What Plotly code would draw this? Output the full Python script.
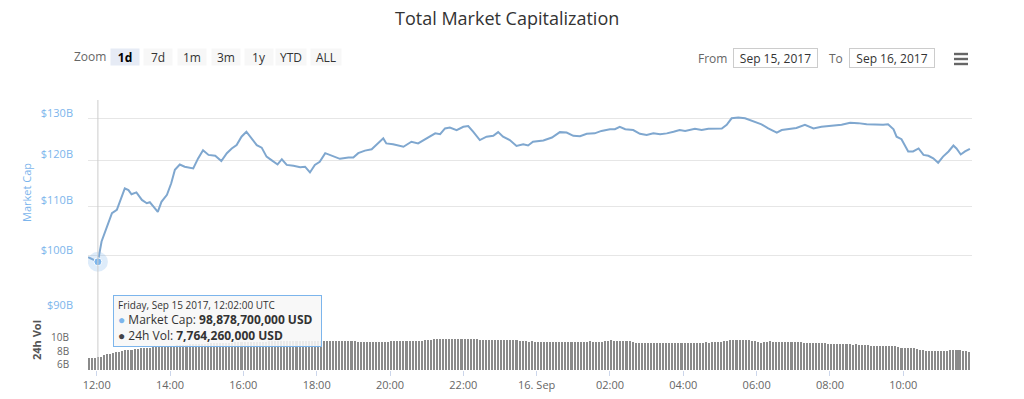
import math
import pandas as pd
import plotly.graph_objects as go

# ---------------- data ----------------
cap_times = [
    "2017-09-15 11:46", "2017-09-15 12:02", "2017-09-15 12:08", "2017-09-15 12:16", "2017-09-15 12:25",
    "2017-09-15 12:33", "2017-09-15 12:38", "2017-09-15 12:46", "2017-09-15 12:52", "2017-09-15 12:57",
    "2017-09-15 13:05", "2017-09-15 13:14", "2017-09-15 13:22", "2017-09-15 13:27", "2017-09-15 13:33",
    "2017-09-15 13:40", "2017-09-15 13:46", "2017-09-15 13:55", "2017-09-15 14:02", "2017-09-15 14:08",
    "2017-09-15 14:16", "2017-09-15 14:24", "2017-09-15 14:38", "2017-09-15 14:46", "2017-09-15 14:54",
    "2017-09-15 15:03", "2017-09-15 15:14", "2017-09-15 15:24", "2017-09-15 15:33", "2017-09-15 15:41",
    "2017-09-15 15:49", "2017-09-15 15:57", "2017-09-15 16:05", "2017-09-15 16:14", "2017-09-15 16:22",
    "2017-09-15 16:30", "2017-09-15 16:38", "2017-09-15 16:46", "2017-09-15 16:56", "2017-09-15 17:03",
    "2017-09-15 17:11", "2017-09-15 17:22", "2017-09-15 17:33", "2017-09-15 17:41", "2017-09-15 17:49",
    "2017-09-15 17:57", "2017-09-15 18:05", "2017-09-15 18:14", "2017-09-15 18:25", "2017-09-15 18:38",
    "2017-09-15 18:52", "2017-09-15 19:00", "2017-09-15 19:08", "2017-09-15 19:19", "2017-09-15 19:30",
    "2017-09-15 19:41", "2017-09-15 19:49", "2017-09-15 19:54", "2017-09-15 20:05", "2017-09-15 20:22",
    "2017-09-15 20:35", "2017-09-15 20:46", "2017-09-15 21:00", "2017-09-15 21:14", "2017-09-15 21:22",
    "2017-09-15 21:30", "2017-09-15 21:38", "2017-09-15 21:49", "2017-09-15 22:00", "2017-09-15 22:08",
    "2017-09-15 22:16", "2017-09-15 22:27", "2017-09-15 22:38", "2017-09-15 22:49", "2017-09-15 22:57",
    "2017-09-15 23:05", "2017-09-15 23:16", "2017-09-15 23:27", "2017-09-15 23:38", "2017-09-15 23:46",
    "2017-09-15 23:54", "2017-09-16 00:11", "2017-09-16 00:25", "2017-09-16 00:38", "2017-09-16 00:49",
    "2017-09-16 01:00", "2017-09-16 01:11", "2017-09-16 01:22", "2017-09-16 01:35", "2017-09-16 01:46",
    "2017-09-16 02:00", "2017-09-16 02:08", "2017-09-16 02:16", "2017-09-16 02:25", "2017-09-16 02:38",
    "2017-09-16 02:49", "2017-09-16 03:00", "2017-09-16 03:11", "2017-09-16 03:22", "2017-09-16 03:33",
    "2017-09-16 03:44", "2017-09-16 03:54", "2017-09-16 04:03", "2017-09-16 04:19", "2017-09-16 04:30",
    "2017-09-16 04:41", "2017-09-16 05:03", "2017-09-16 05:11", "2017-09-16 05:19", "2017-09-16 05:30",
    "2017-09-16 05:41", "2017-09-16 05:57", "2017-09-16 06:08", "2017-09-16 06:19", "2017-09-16 06:33",
    "2017-09-16 06:41", "2017-09-16 06:55", "2017-09-16 07:05", "2017-09-16 07:19", "2017-09-16 07:33",
    "2017-09-16 07:46", "2017-09-16 08:03", "2017-09-16 08:19", "2017-09-16 08:33", "2017-09-16 08:46",
    "2017-09-16 09:00", "2017-09-16 09:14", "2017-09-16 09:27", "2017-09-16 09:35", "2017-09-16 09:44",
    "2017-09-16 09:49", "2017-09-16 09:57", "2017-09-16 10:08", "2017-09-16 10:16", "2017-09-16 10:25",
    "2017-09-16 10:33", "2017-09-16 10:41", "2017-09-16 10:49", "2017-09-16 10:57", "2017-09-16 11:05",
    "2017-09-16 11:14", "2017-09-16 11:22", "2017-09-16 11:27", "2017-09-16 11:34", "2017-09-16 11:41",
    "2017-09-16 11:49",
]
# market cap, billions USD
market_cap_b = [
    99.75, 98.88, 102.8, 105.4, 108.5,
    109.2, 110.9, 113.8, 113.4, 112.5,
    112.9, 111.3, 110.6, 110.8, 109.9,
    108.8, 110.9, 112.4, 114.9, 117.9,
    119.1, 118.6, 118.2, 120.5, 122.4,
    121.3, 121.1, 119.9, 121.7, 122.8,
    123.6, 125.6, 126.8, 125.2, 123.6,
    123.0, 120.9, 120.1, 119.1, 120.3,
    119.0, 118.8, 118.5, 118.6, 117.3,
    119.0, 119.7, 121.7, 121.1, 120.4,
    120.7, 120.7, 121.7, 122.3, 122.6,
    124.0, 125.2, 124.0, 123.8, 123.2,
    124.4, 124.0, 125.2, 126.4, 126.2,
    127.6, 127.8, 127.2, 128.0, 128.2,
    126.8, 124.8, 125.6, 125.8, 126.7,
    125.6, 124.8, 123.4, 123.8, 123.5,
    124.4, 124.7, 125.4, 126.7, 126.6,
    125.8, 125.7, 126.3, 126.4, 127.0,
    127.4, 127.4, 128.0, 127.4, 127.2,
    126.3, 126.0, 126.4, 126.2, 126.4,
    126.8, 127.2, 127.0, 127.5, 127.2,
    127.5, 127.6, 128.5, 130.1, 130.3,
    130.1, 129.1, 128.6, 127.6, 126.6,
    127.2, 127.5, 127.7, 128.5, 127.6,
    128.0, 128.2, 128.5, 129.0, 128.9,
    128.6, 128.5, 128.5, 128.6, 127.4,
    125.6, 125.0, 122.1, 122.1, 122.8,
    121.3, 121.1, 120.5, 119.5, 120.9,
    122.1, 123.5, 122.8, 121.4, 122.1,
    122.7,
]

# 24h volume, billions USD, one bar every 5 minutes from 11:47 (Sep 15)
vol_start = "2017-09-15 11:47"
volume_b = [
    7.72, 7.70, 7.74, 7.764, 7.79, 8.10, 8.25, 8.31, 8.45, 8.60, 8.72, 8.85,
    8.95, 9.05, 9.10, 9.20, 9.25, 9.30, 9.35, 9.40, 9.45, 9.50, 9.55, 9.60,
    9.65, 9.70, 9.75, 9.80, 9.85, 9.90, 9.95, 10.0, 10.05, 10.1, 10.1, 10.15,
    10.2, 10.2, 10.25, 10.3, 10.3, 10.35, 10.4, 10.4, 10.45, 10.5, 10.5, 10.5,
    10.55, 10.55, 10.6, 10.6, 10.6, 10.65, 10.65, 10.7, 10.7, 10.7, 10.7, 10.75,
    10.75, 10.75, 10.8, 10.8, 10.8, 10.8, 10.85, 10.85, 10.8, 10.85, 10.85, 10.85,
    10.85, 10.8, 10.85, 10.9, 10.85, 10.8, 10.85, 10.8, 10.85, 10.8, 10.85, 10.8,
    10.8, 10.85, 10.8, 10.75, 10.7, 10.7, 10.65, 10.7, 10.65, 10.7, 10.7, 10.65,
    10.7, 10.65, 10.7, 10.8, 10.85, 10.8, 10.85, 10.8, 10.85, 10.9, 10.85, 10.8,
    10.85, 10.9, 10.95, 11.1, 11.15, 11.2, 11.25, 11.2, 11.25, 11.3, 11.25, 11.2,
    11.25, 11.3, 11.25, 11.3, 11.25, 11.2, 11.25, 11.2, 11.1, 11.0, 11.05, 11.0,
    11.0, 11.05, 11.0, 10.95, 11.0, 11.05, 11.0, 10.95, 11.0, 10.9, 10.8, 10.75,
    10.7, 10.75, 10.7, 10.65, 10.7, 10.7, 10.65, 10.7, 10.7, 10.65, 10.7, 10.7,
    10.65, 10.7, 10.7, 10.65, 10.7, 10.7, 10.65, 10.7, 10.75, 10.7, 10.7, 10.65,
    10.7, 10.8, 10.9, 10.95, 10.9, 10.85, 10.9, 10.85, 10.9, 10.8, 10.6, 10.5,
    10.5, 10.45, 10.5, 10.5, 10.45, 10.5, 10.5, 10.45, 10.5, 10.5, 10.45, 10.5,
    10.5, 10.45, 10.5, 10.5, 10.45, 10.5, 10.5, 10.5, 10.45, 10.5, 10.55, 10.5,
    10.55, 10.6, 10.6, 10.7, 10.8, 10.9, 10.95, 11.05, 11.1, 11.05, 11.0, 10.95,
    10.95, 10.9, 10.9, 10.7, 10.5, 10.6, 10.7, 10.75, 10.7, 10.7, 10.65, 10.6,
    10.6, 10.6, 10.55, 10.6, 10.55, 10.55, 10.5, 10.4, 10.35, 10.35, 10.3, 10.35,
    10.3, 10.3, 10.25, 10.2, 10.15, 10.15, 10.1, 10.15, 10.1, 10.1, 10.05, 10.1,
    10.05, 10.0, 9.95, 9.9, 9.85, 9.85, 9.85, 9.8, 9.85, 9.8, 9.8, 9.75,
    9.7, 9.55, 9.45, 9.45, 9.4, 9.4, 9.3, 9.2, 9.05, 8.95, 8.9, 8.9,
    8.9, 8.85, 8.85, 8.9, 8.9, 8.85, 8.95, 9.0, 9.0, 8.95, 8.8, 8.75,
    8.7,
]

hover_index = 1  # point under the tooltip (12:02)
hover_cap_usd = 98878700000
hover_vol_usd = 7764260000
hover_label = "Friday, Sep 15 2017, 12:02:00 UTC"

cap_ticks = [90, 100, 110, 120, 130]
cap_tick_text = ["$90B", "$100B", "$110B", "$120B", "$130B"]
vol_ticks = [6, 8, 10]
vol_tick_text = ["6B", "8B", "10B"]
x_ticks = ["2017-09-15 12:00", "2017-09-15 14:00", "2017-09-15 16:00", "2017-09-15 18:00",
           "2017-09-15 20:00", "2017-09-15 22:00", "2017-09-16 00:00", "2017-09-16 02:00",
           "2017-09-16 04:00", "2017-09-16 06:00", "2017-09-16 08:00", "2017-09-16 10:00"]
x_tick_text = ["12:00", "14:00", "16:00", "18:00", "20:00", "22:00", "16. Sep",
               "02:00", "04:00", "06:00", "08:00", "10:00"]
zoom_buttons = ["1d", "7d", "1m", "3m", "1y", "YTD", "ALL"]
date_from = "Sep 15, 2017"
date_to = "Sep 16, 2017"

# ---------------- layout helpers ----------------
W, H = 1024, 399


def PX(x):
    return x / W


def PY(y):
    return 1 - y / H


FONT = "Open Sans, Lucida Grande, sans-serif"
LINE_COLOR = "#7fa7cf"
vol_times = pd.date_range(vol_start, periods=len(volume_b), freq="5min")

fig = go.Figure()
fig.add_trace(go.Bar(
    x=vol_times, y=volume_b, xaxis="x", yaxis="y2",
    marker=dict(color="#8a8a8a", line=dict(width=0)),
    width=5 * 60 * 1000 * 0.68, hoverinfo="skip",
))
fig.add_trace(go.Scatter(
    x=cap_times, y=market_cap_b, mode="lines", xaxis="x", yaxis="y",
    line=dict(color=LINE_COLOR, width=2), hoverinfo="skip",
))
# hover halo + marker on the hovered point
fig.add_trace(go.Scatter(
    x=[cap_times[hover_index]], y=[market_cap_b[hover_index]], mode="markers",
    xaxis="x", yaxis="y", marker=dict(size=20, color="rgba(124,181,236,0.25)"),
    hoverinfo="skip",
))
fig.add_trace(go.Scatter(
    x=[cap_times[hover_index]], y=[market_cap_b[hover_index]], mode="markers",
    xaxis="x", yaxis="y", marker=dict(size=8, color="#7cb5ec", line=dict(color="white", width=1)),
    hoverinfo="skip",
))

cap_top = 2 + (256 - 100) / 1205
vol_bottom = math.log10(6)
vol_top = vol_bottom + 58 / 113

fig.update_layout(
    width=W, height=H, margin=dict(l=0, r=0, t=0, b=0, autoexpand=False),
    paper_bgcolor="white", plot_bgcolor="white", showlegend=False,
    font=dict(family=FONT, color="#333333"),
    bargap=0,
    xaxis=dict(
        domain=[PX(88), PX(972)], anchor="y2", type="date",
        range=["2017-09-15 11:45:48", "2017-09-16 11:52:24"],
        tickvals=x_ticks, ticktext=x_tick_text, ticks="outside", ticklen=5,
        tickcolor="#ccd6eb", showgrid=False, zeroline=False, showline=False,
        tickfont=dict(size=11, color="#666666"),
    ),
    yaxis=dict(
        domain=[PY(311), PY(100)], anchor="x", type="log",
        range=[math.log10(90), cap_top],
        tickvals=cap_ticks, ticktext=cap_tick_text, ticks="",
        showgrid=True, gridcolor="#e6e6e6", gridwidth=1, zeroline=False, showline=False,
        tickfont=dict(size=11, color="#7cb5ec"), ticklabelshift=-6, ticklabelstandoff=14,
    ),
    yaxis2=dict(
        domain=[PY(370), PY(312)], anchor="x", type="log",
        range=[vol_bottom, vol_top], showticklabels=False, ticks="",
        showgrid=False, zeroline=False, showline=False,
    ),
)

shapes = []
annotations = []

# volume axis labels, placed on the volume axis scale (tightly packed like the original)
vol_label_shift = [6, 5, 8]
for v, txt, ys in zip(vol_ticks, vol_tick_text, vol_label_shift):
    annotations.append(dict(text=txt, xref="paper", yref="y2", x=PX(71), y=math.log10(v),
                            xanchor="right", yanchor="middle", yshift=ys, showarrow=False,
                            font=dict(size=10, color="#666666")))

# crosshair at hovered point
shapes.append(dict(type="line", xref="x", yref="paper",
                   x0=cap_times[hover_index], x1=cap_times[hover_index],
                   y0=PY(370), y1=PY(100), line=dict(color="#cccccc", width=1)))

# title
annotations.append(dict(text="Total Market Capitalization", xref="paper", yref="paper",
                        x=PX(507), y=PY(18), xanchor="center", yanchor="middle", showarrow=False,
                        font=dict(size=18, color="#333333")))
# axis titles
annotations.append(dict(text="Market Cap", xref="paper", yref="paper", x=PX(27), y=PY(193),
                        xanchor="center", yanchor="middle", textangle=-90, showarrow=False,
                        font=dict(size=11, color="#7cb5ec")))
annotations.append(dict(text="<b>24h Vol</b>", xref="paper", yref="paper", x=PX(36), y=PY(340),
                        xanchor="center", yanchor="middle", textangle=-90, showarrow=False,
                        font=dict(size=11, color="#555555")))

# zoom range selector
annotations.append(dict(text="Zoom", xref="paper", yref="paper", x=PX(90), y=PY(57),
                        xanchor="center", yanchor="middle", showarrow=False,
                        font=dict(size=12, color="#666666")))
btn_centers = [125, 158, 192, 226, 259, 291, 326]
for lbl, cx in zip(zoom_buttons, btn_centers):
    sel = lbl == "1d"
    annotations.append(dict(
        text=f"<b>{lbl}</b>" if sel else lbl, xref="paper", yref="paper",
        x=PX(cx), y=PY(57), xanchor="center", yanchor="middle", showarrow=False,
        width=28 if lbl not in ("YTD", "ALL") else 30, height=16, borderpad=0,
        bgcolor="#e6ebf5" if sel else "#f7f7f7",
        font=dict(size=12, color="#000000" if sel else "#333333"),
    ))

# date inputs
annotations.append(dict(text="From", xref="paper", yref="paper", x=PX(712), y=PY(58),
                        xanchor="center", yanchor="middle", showarrow=False,
                        font=dict(size=12, color="#666666")))
annotations.append(dict(text=date_from, xref="paper", yref="paper", x=PX(775), y=PY(58),
                        xanchor="center", yanchor="middle", showarrow=False, width=83, height=18,
                        borderpad=0, borderwidth=1, bordercolor="#cccccc", bgcolor="white",
                        font=dict(size=12, color="#333333")))
annotations.append(dict(text="To", xref="paper", yref="paper", x=PX(836), y=PY(58),
                        xanchor="center", yanchor="middle", showarrow=False,
                        font=dict(size=12, color="#666666")))
annotations.append(dict(text=date_to, xref="paper", yref="paper", x=PX(892), y=PY(58),
                        xanchor="center", yanchor="middle", showarrow=False, width=84, height=18,
                        borderpad=0, borderwidth=1, bordercolor="#cccccc", bgcolor="white",
                        font=dict(size=12, color="#333333")))
# hamburger menu
for yy in (54, 59, 64):
    shapes.append(dict(type="rect", xref="paper", yref="paper",
                       x0=PX(954), x1=PX(968), y0=PY(yy + 1.2), y1=PY(yy - 1.2),
                       fillcolor="#666666", line=dict(width=0)))

# tooltip
tip = (f"<span style='font-size:10px'>{hover_label}</span><br>"
       f"<span style='color:#7cb5ec'>●</span> Market Cap: <b>{hover_cap_usd:,.0f} USD</b><br>"
       f"<span style='color:#434348'>●</span> 24h Vol: <b>{hover_vol_usd:,.0f} USD</b>")
annotations.append(dict(text=tip, xref="paper", yref="paper", x=PX(113), y=PY(295),
                        xanchor="left", yanchor="top", showarrow=False, align="left",
                        width=199, height=42, borderpad=4, borderwidth=1,
                        bordercolor="#7cb5ec", bgcolor="rgba(247,247,247,0.88)",
                        font=dict(size=12, color="#333333")))

fig.update_layout(shapes=shapes, annotations=annotations)
fig.write_html("out.html", config={"displayModeBar": False},
               post_script="document.body.style.margin='0';document.body.style.overflow='hidden';")
